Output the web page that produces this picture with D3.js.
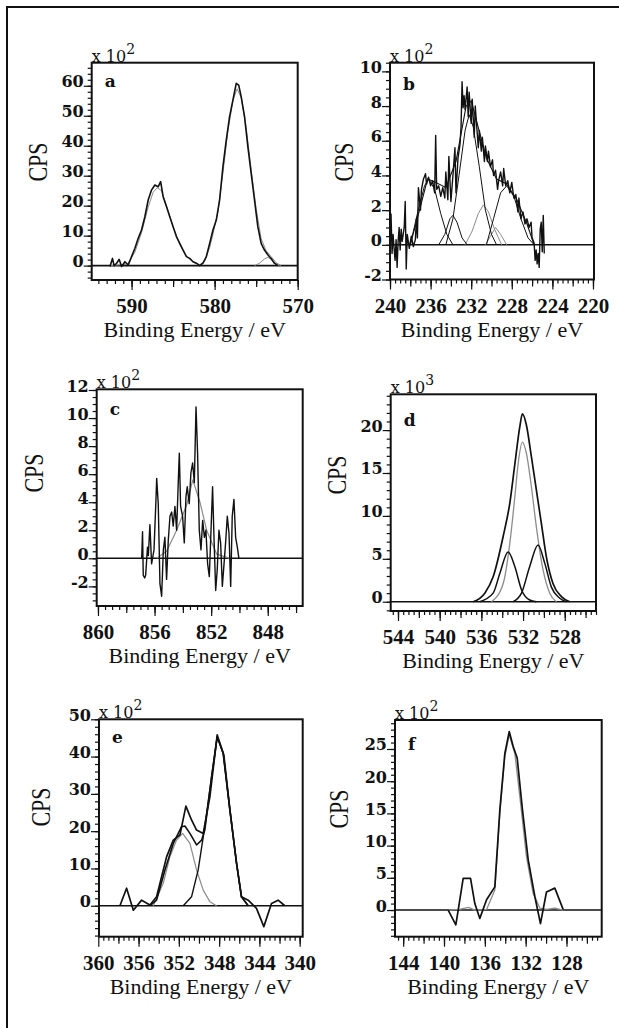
<!DOCTYPE html>
<html>
<head>
<meta charset="utf-8">
<script src="https://cdn.jsdelivr.net/npm/d3@7"></script>
<style>
  html, body { margin: 0; padding: 0; background: #fff; }
  svg { display: block; }
  .xaxis text { font-family: "Liberation Serif", "Times New Roman", serif; font-weight: bold; font-size: 21px; fill: #111; }
  .yaxis text { font-family: "DejaVu Serif", serif; font-weight: bold; font-size: 16px; fill: #111; }
  .tick line { stroke: #111; stroke-width: 1.2; }
  .mult { font-family: "DejaVu Serif", serif; font-size: 16px; fill: #111; }
  .cps { font-family: "Liberation Serif", "Times New Roman", serif; font-size: 22px; fill: #111; }
  .title { font-family: "Liberation Serif", "Times New Roman", serif; font-size: 22px; fill: #111; }
  .letter { font-family: "DejaVu Serif", serif; font-weight: bold; font-size: 17px; fill: #111; }
</style>
</head>
<body>
<svg id="chart" width="619" height="1028"></svg>
<script>
// ---- panel a ----
const aTicksX = [590, 580, 570];
const aTicksY = [0, 10, 20, 30, 40, 50, 60];
const aRaw = [[592.6,-0.3],[592.3,2.4],[592.1,0],[591.8,0.8],[591.5,2.1],[591.2,-0.3],[590.8,1.3],[590.4,0.2],
  [590.0,3],[589.6,5.8],[589.2,9.1],[588.8,11.9],[588.4,16.3],[588.0,21.9],[587.6,25.2],[587.2,26.9],[586.8,26.3],
  [586.5,28],[586.2,23],[585.8,19.7],[585.4,16.3],[585.0,13],[584.6,9.7],[584.2,7.4],[583.8,5.2],[583.4,3],
  [583.0,2.4],[582.6,1.3],[582.2,0.8],[581.8,0],[581.4,0.8],[581.0,3],[580.6,7.4],[580.2,11.9],[579.8,15.2],
  [579.4,21.9],[579.0,33],[578.6,41.9],[578.2,49.7],[577.8,55.2],[577.4,60.8],[577.1,60.2],[576.8,56.3],
  [576.4,49.7],[576.0,39.7],[575.6,30.8],[575.2,21.9],[574.8,13],[574.4,7.4],[574.0,5.2],[573.6,3.6],
  [573.2,2.4],[572.8,0.8],[572.4,0]];
const aFit = [[592.6,0],[590.5,0.5],[589.6,4.5],[588.8,11],[588.0,19.5],[587.4,24.5],[586.9,26],[586.4,25],
  [585.8,20],[585.0,13],[584.2,7],[583.4,3.2],[582.6,1.2],[581.8,0.3],[581.2,1.5],[580.6,6],[580.2,10.5],
  [579.6,18],[579.0,31],[578.4,45],[577.8,55],[577.3,59],[576.8,56],[576.2,46],[575.6,32],[575.0,19],
  [574.4,9],[573.8,5],[573.2,3],[572.6,1],[572.0,0]];
const aSmall = [[575.2,0],[574.6,0.8],[574.0,2.2],[573.6,2.8],[573.2,2.1],[572.7,0.8],[572.2,0]];

// ---- panel b ----
const bTicksX = [240, 236, 232, 228, 224, 220];
const bTicksY = [-2, 0, 2, 4, 6, 8, 10];
const bRaw = [[239.9,1.8],[239.8,-0.5],[239.7,0.6],[239.6,-0.2],[239.5,-0.9],[239.4,0.3],[239.3,-1.3],[239.2,0.2],
  [239.1,1.0],[239.0,-0.3],[238.9,0.9],[238.8,0.2],[238.6,1.0],[238.5,2.5],[238.4,-1.4],[238.3,0.6],[238.1,-0.2],
  [237.9,0.5],[237.7,-0.1],[237.5,0.3],[237.4,1.5],[237.3,0.4],[237.2,3.3],[237.0,2.0],[236.9,3.2],[236.7,3.8],
  [236.5,4.1],[236.4,3.5],[236.2,3.9],[236.0,3.4],[235.8,3.7],[235.6,3.0],[235.5,6.3],[235.4,3.2],[235.2,3.4],
  [235.0,2.8],[234.8,3.3],[234.6,2.7],[234.5,4.2],[234.3,2.6],[234.2,5.1],[234.0,2.5],[233.8,4.0],[233.6,5.6],
  [233.5,3.0],[233.3,5.0],[233.1,5.8],[233.0,6.8],[232.9,9.4],[232.8,7.9],[232.7,8.6],[232.6,7.8],[232.4,9.1],
  [232.3,7.4],[232.2,8.8],[232.0,7.0],[231.9,8.4],[231.7,6.2],[231.6,8.0],[231.5,7.2],[231.3,5.6],[231.2,6.6],
  [231.0,5.4],[230.9,6.2],[230.7,4.8],[230.6,5.7],[230.4,4.8],[230.3,5.4],[230.1,4.5],[229.9,4.9],[229.8,4.0],
  [229.6,4.3],[229.4,3.2],[229.3,3.7],[229.1,4.2],[228.9,3.4],[228.8,4.4],[228.6,3.4],[228.4,3.7],[228.2,3.0],
  [228.0,3.6],[227.8,2.7],[227.6,2.9],[227.4,1.9],[227.3,2.7],[227.1,1.5],[226.9,1.9],[226.7,1.2],[226.5,1.5],
  [226.3,1.0],[226.1,1.3],[226.0,0.4],[225.8,0.1],[225.7,-0.9],[225.6,-0.3],[225.5,-1.1],[225.4,-0.5],
  [225.3,-1.3],[225.2,0.9],[225.1,1.3],[225.0,-0.4],[224.9,1.7],[224.8,-0.5]];
const bEnv = [[238.0,0],[237.0,2.2],[236.3,3.8],[235.5,3.6],[234.5,3.3],[233.5,4.8],[232.5,8.0],[232.0,8.3],
  [231.5,7.2],[230.5,5.0],[229.5,3.8],[228.5,3.5],[227.5,2.6],[226.5,1.2],[225.8,0]];
const bShoulderL = [[238.0,0],[237.3,1.8],[236.6,3.4],[236.2,3.8],[235.6,3.2],[235.0,1.8],[234.4,0.6],[233.8,0]];
const bPeak1 = [[235.2,0],[234.6,0.6],[234.1,1.5],[233.8,1.7],[233.4,1.3],[232.9,0.4],[232.4,0]];
const bMain = [[234.5,0],[233.8,1.5],[233.2,4.0],[232.6,6.6],[232.2,7.5],[231.8,6.8],[231.2,4.5],[230.6,2.0],
  [230.0,0.6],[229.5,0]];
const bPeak2 = [[232.6,0],[231.9,0.8],[231.3,1.8],[230.8,2.3],[230.3,1.9],[229.7,0.9],[229.0,0]];
const bPeak3 = [[230.6,0],[230.1,0.5],[229.6,1.0],[229.1,0.6],[228.5,0]];
const bShoulderR = [[230.5,0],[229.8,1.5],[229.1,3.0],[228.5,3.4],[227.8,2.8],[227.1,1.5],[226.4,0.4],[225.8,0]];

// ---- panel c ----
const cTicksX = [860, 856, 852, 848];
const cTicksY = [-2, 0, 2, 4, 6, 8, 10, 12];
const cRaw = [[856.91,0],[856.85,1.9],[856.80,-1.2],[856.70,-1.4],[856.63,-1.2],[856.50,0.8],[856.44,0.2],
  [856.33,2.4],[856.21,-0.4],[856.04,0.6],[855.90,4.2],[855.85,5.7],[855.74,3.9],[855.62,-1.8],[855.50,-2.7],
  [855.38,0.6],[855.27,1.5],[855.15,-1.5],[855.03,1.3],[854.91,3.0],[854.79,3.3],[854.68,2.3],[854.56,3.7],
  [854.44,2.0],[854.32,5.6],[854.25,7.5],[854.16,3.7],[854.02,3.0],[853.90,1.1],[853.78,4.4],[853.69,5.1],
  [853.55,3.9],[853.43,6.1],[853.31,6.8],[853.19,5.4],[853.07,10.8],[852.96,7.5],[852.84,2.0],[852.72,0.6],
  [852.60,2.7],[852.48,1.5],[852.37,2.0],[852.25,-0.4],[852.13,-1.3],[852.01,2.0],[851.90,5.1],[851.80,1.5],
  [851.68,-2.3],[851.57,-0.8],[851.45,2.0],[851.33,1.1],[851.21,-2.0],[851.09,-0.4],[850.98,1.1],[850.86,3.0],
  [850.74,1.8],[850.62,-2.0],[850.51,3.0],[850.39,4.2],[850.27,1.5],[850.15,0.8],[850.04,0]];
const cFit = [[855.85,0],[855.15,0.5],[854.44,2.0],[853.73,3.8],[853.30,5.6],[852.79,4.0],[852.32,2.0],
  [851.61,0.3],[850.67,0]];

// ---- panel d ----
const dTicksX = [544, 540, 536, 532, 528];
const dTicksY = [0, 5, 10, 15, 20];
const dEnv = [[536.78,0],[535.67,1.0],[534.87,2.9],[533.91,7.6],[533.27,11.5],[532.79,16],[532.31,20.4],
  [532.06,21.9],[531.68,20.6],[531.20,16.9],[530.72,13],[530.24,9.1],[529.76,5.2],[529.12,2.1],[528.32,0.6],[527.53,0]];
const dMain = [[535.03,0],[533.91,2.1],[533.27,6.8],[532.79,12.2],[532.47,16.1],[532.06,18.6],[531.68,17.3],
  [531.20,13.4],[530.72,8.7],[530.08,3.7],[529.44,1.0],[528.80,0]];
const dLeft = [[536.15,0],[534.87,1.0],[534.23,3.3],[533.43,5.8],[532.79,4.1],[532.15,1.4],[531.36,0.2],[530.72,0]];
const dRight = [[532.95,0],[532.15,1.0],[531.36,4.1],[530.56,6.6],[529.92,4.5],[529.28,1.7],[528.48,0.4],[527.84,0]];

// ---- panel e ----
const eTicksX = [360, 356, 352, 348, 344, 340];
const eTicksY = [0, 10, 20, 30, 40, 50];
const eRaw = [[357.85,0],[357.19,4.7],[356.52,-1.2],[355.70,1.5],[354.87,0.2],[354.21,2.4],[353.22,13.1],
  [352.55,17.6],[351.89,19.0],[351.30,26.7],[350.74,23.0],[350.24,20.3],[349.58,19.4],[348.92,29.2],
  [348.19,45.8],[347.53,40.4],[346.93,25.7],[346.27,11.4],[345.78,2.4],[345.11,1.5],[344.29,-0.7],
  [343.56,-5.6],[342.80,0.6],[342.14,1.5],[341.48,0]];
const eEnv = [[354.87,0],[354.21,1.5],[353.38,9.6],[352.55,16.7],[351.73,21.2],[351.40,21.4],[350.90,19.4],
  [350.24,16.3],[349.74,17.6],[349.42,20.3],[348.75,34.6],[348.19,45.3],[347.60,40.9],[346.93,25.7],
  [346.27,11.4],[345.78,2.4],[345.11,0]];
const eComp1 = [[354.54,0],[353.55,6.0],[352.89,13.1],[352.23,17.6],[351.63,19.4],[350.90,16.7],[350.24,9.6],
  [349.58,4.2],[348.92,1.1],[348.26,0]];
const eComp2 = [[351.56,0],[350.74,2.4],[350.08,9.6],[349.42,21.2],[348.75,34.6],[348.19,45.3],[347.60,40.9],
  [346.93,25.7],[346.27,11.4],[345.78,2.4],[345.11,0]];

// ---- panel f ----
const fTicksX = [144, 140, 136, 132, 128];
const fTicksY = [0, 5, 10, 15, 20, 25];
const fRaw = [[139.59,0],[138.84,-2.3],[138.51,1.0],[138.12,4.9],[137.40,4.9],[136.98,1.0],[136.49,-1.3],
  [135.83,1.6],[135.02,3.6],[134.53,15.5],[134.04,24.3],[133.61,27.7],[133.22,25.4],[132.83,23.6],[132.31,15.5],
  [131.75,7.8],[131.10,2.1],[130.55,-2.1],[129.96,2.8],[129.14,3.4],[128.33,0.1]];
const fFit = [[139.59,0],[138.51,0.1],[137.6,0.4],[136.98,0],[135.83,0.1],[135.02,3.1],[134.53,15],[134.04,23.8],
  [133.61,27.2],[133.06,24.3],[132.57,17.6],[131.92,8.3],[131.27,2.6],[130.61,0.3],[129.96,0.1],[129.14,0.3],[128.33,0]];

const BLACK = '#111', GREY = '#8c8c8c';

const panels = [
  { letter: 'a', exp: '2', box: {left: 91.7, right: 297.7, top: 62.7, bottom: 280},
    xDomain: [594.8, 570], yDomain: [-4.8, 67.7], xTicks: aTicksX, yTicks: aTicksY,
    xMinor: 1, xMid: 5, yMinor: 2, cps: [46.5, 162], letterDy: 24,
    series: [
      {data: aFit, color: GREY, width: 1},
      {data: aSmall, color: GREY, width: 1},
      {data: aRaw, color: BLACK, width: 1.6}
    ] },
  { letter: 'b', exp: '2', box: {left: 390, right: 594, top: 62.7, bottom: 279.5},
    xDomain: [240, 219.9], yDomain: [-2, 10.5], xTicks: bTicksX, yTicks: bTicksY,
    xMinor: 0.5, xMid: 2, yMinor: 0.5, cps: [353, 162], letterDy: 27,
    series: [
      {data: bPeak2, color: GREY, width: 1},
      {data: bPeak3, color: GREY, width: 1},
      {data: bShoulderL, color: BLACK, width: 1},
      {data: bPeak1, color: BLACK, width: 1},
      {data: bMain, color: BLACK, width: 1},
      {data: bShoulderR, color: BLACK, width: 1},
      {data: bEnv, color: BLACK, width: 1.1},
      {data: bRaw, color: BLACK, width: 1.4}
    ] },
  { letter: 'c', exp: '2', box: {left: 96.7, right: 302.7, top: 389.3, bottom: 606},
    xDomain: [860.09, 845.53], yDomain: [-3.4, 12.05], xTicks: cTicksX, yTicks: cTicksY,
    xMinor: 0.5, xMid: 2, yMinor: 0.5, cps: [43, 473], letterDy: 26,
    series: [
      {data: cFit, color: GREY, width: 1.2},
      {data: cRaw, color: BLACK, width: 1.4}
    ] },
  { letter: 'd', exp: '3', box: {left: 390.7, right: 596, top: 394.3, bottom: 611},
    xDomain: [544.7, 525.0], yDomain: [-1.08, 24.17], xTicks: dTicksX, yTicks: dTicksY,
    xMinor: 0.5, xMid: 2, yMinor: 1, cps: [346, 475], letterDy: 32, smooth: true,
    series: [
      {data: dMain, color: GREY, width: 1.3},
      {data: dLeft, color: BLACK, width: 1.5},
      {data: dRight, color: BLACK, width: 1.5},
      {data: dEnv, color: BLACK, width: 1.7}
    ] },
  { letter: 'e', exp: '2', box: {left: 99, right: 302.7, top: 719.3, bottom: 936.7},
    xDomain: [359.93, 339.7], yDomain: [-8.3, 50], xTicks: eTicksX, yTicks: eTicksY,
    xMinor: 0.5, xMid: 2, yMinor: 2, cps: [50, 807], letterDy: 24,
    series: [
      {data: eComp1, color: GREY, width: 1.2},
      {data: eComp2, color: BLACK, width: 1.4},
      {data: eEnv, color: BLACK, width: 1.6},
      {data: eRaw, color: BLACK, width: 1.7}
    ] },
  { letter: 'f', exp: '2', box: {left: 395, right: 601.7, top: 720, bottom: 936.7},
    xDomain: [144.8, 124.55], yDomain: [-4.14, 29.5], xTicks: fTicksX, yTicks: fTicksY,
    xMinor: 0.5, xMid: 2, yMinor: 1, cps: [348, 809], letterDy: 30,
    series: [
      {data: fFit, color: GREY, width: 1.3},
      {data: fRaw, color: BLACK, width: 1.7}
    ] }
];

const svg = d3.select('#chart');

// outer frame (right and bottom edges fall outside the picture)
svg.append('rect')
  .attr('x', 7).attr('y', 7).attr('width', 640).attr('height', 1050)
  .attr('fill', 'none').attr('stroke', BLACK).attr('stroke-width', 2);

function stepRange(domain, step) {
  const lo = Math.ceil(Math.min(...domain) / step) * step;
  const hi = Math.max(...domain);
  return d3.range(lo, hi + 1e-9, step);
}

function drawPanel(p) {
  const g = svg.append('g');
  const b = p.box;
  const x = d3.scaleLinear().domain(p.xDomain).range([b.left, b.right]);
  const y = d3.scaleLinear().domain(p.yDomain).range([b.bottom, b.top]);

  // x ticks: minor, mid, major
  g.append('g').attr('transform', `translate(0,${b.bottom})`)
    .call(d3.axisBottom(x).tickValues(stepRange(p.xDomain, p.xMinor)).tickSize(4).tickFormat(''))
    .call(a => a.select('.domain').remove());
  g.append('g').attr('transform', `translate(0,${b.bottom})`)
    .call(d3.axisBottom(x).tickValues(stepRange(p.xDomain, p.xMid)).tickSize(7).tickFormat(''))
    .call(a => a.select('.domain').remove());
  g.append('g').attr('class', 'xaxis').attr('transform', `translate(0,${b.bottom})`)
    .call(d3.axisBottom(x).tickValues(p.xTicks).tickSize(10).tickFormat(d => String(d)))
    .call(a => a.select('.domain').remove())
    .call(a => a.selectAll('text').attr('y', 33).attr('dy', 0));

  // y ticks
  g.append('g').attr('transform', `translate(${b.left},0)`)
    .call(d3.axisLeft(y).tickValues(stepRange(p.yDomain, p.yMinor)).tickSize(4).tickFormat(''))
    .call(a => a.select('.domain').remove());
  g.append('g').attr('class', 'yaxis').attr('transform', `translate(${b.left},0)`)
    .call(d3.axisLeft(y).tickValues(p.yTicks).tickSize(8).tickFormat(d => String(d)))
    .call(a => a.select('.domain').remove())
    .call(a => a.selectAll('text').attr('x', -8).attr('dy', 0).attr('y', 1));

  // zero line
  g.append('line')
    .attr('x1', b.left).attr('x2', b.right)
    .attr('y1', y(0)).attr('y2', y(0))
    .attr('stroke', BLACK).attr('stroke-width', 1.6);

  const line = d3.line()
    .x(d => x(d[0]))
    .y(d => y(d[1]))
    .curve(p.smooth ? d3.curveMonotoneX : d3.curveLinear);

  p.series.forEach(s => {
    g.append('path')
      .datum(s.data)
      .attr('d', line)
      .attr('fill', 'none')
      .attr('stroke', s.color)
      .attr('stroke-width', s.width)
      .attr('stroke-linejoin', 'round');
  });

  // plot box
  g.append('rect')
    .attr('x', b.left).attr('y', b.top)
    .attr('width', b.right - b.left).attr('height', b.bottom - b.top)
    .attr('fill', 'none').attr('stroke', BLACK).attr('stroke-width', 2);

  // multiplier
  const mult = g.append('text').attr('class', 'mult').attr('x', b.left).attr('y', b.top - 1);
  mult.append('tspan').text('x 10');
  mult.append('tspan').attr('dy', -8).attr('font-size', 14).text(p.exp);

  // panel letter
  g.append('text').attr('class', 'letter')
    .attr('x', b.left + 13).attr('y', b.top + p.letterDy)
    .text(p.letter);

  // y title
  g.append('text').attr('class', 'cps')
    .attr('text-anchor', 'middle')
    .attr('transform', `translate(${p.cps[0]},${p.cps[1]}) rotate(-90) scale(1,1.2)`)
    .text('CPS');

  // x title
  g.append('text').attr('class', 'title')
    .attr('text-anchor', 'middle')
    .attr('x', (b.left + b.right) / 2)
    .attr('y', b.bottom + 57)
    .text('Binding Energy / eV');
}

panels.forEach(drawPanel);
</script>
</body>
</html>
